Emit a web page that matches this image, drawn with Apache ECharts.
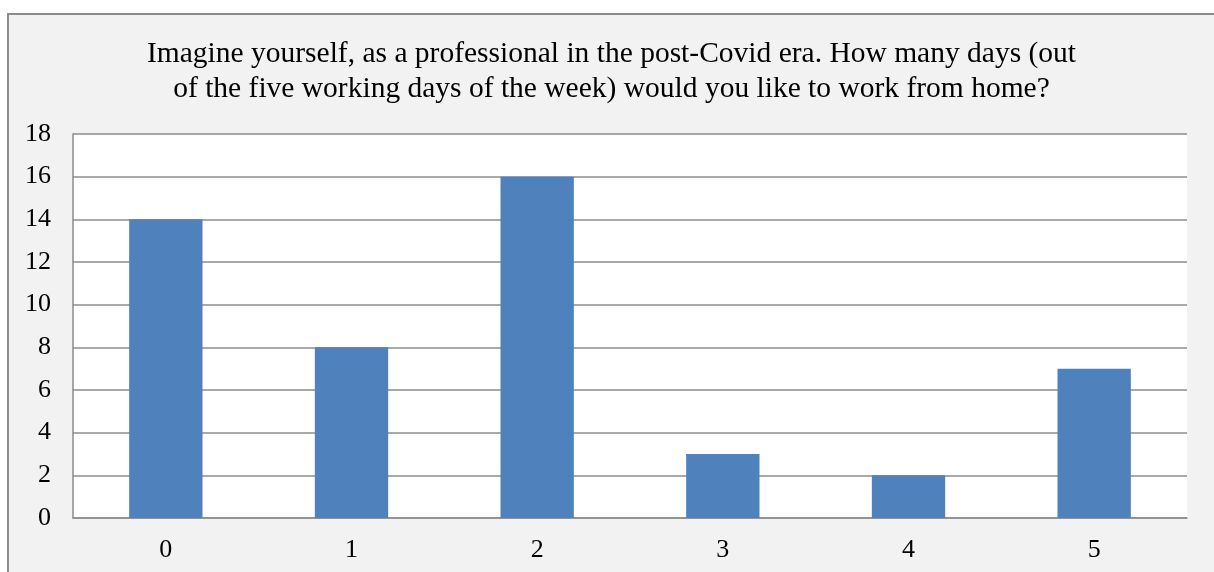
<!DOCTYPE html>
<html>
<head>
<meta charset="utf-8">
<script src="https://cdn.jsdelivr.net/npm/echarts@6/dist/echarts.min.js"></script>
<style>
  html, body { margin: 0; padding: 0; background: #fff; }
  #frame {
    position: absolute; left: 7px; top: 13px; width: 1205px; height: 557px;
    background: #f2f2f2; border-left: 2px solid #8c8c8c; border-top: 2px solid #8c8c8c;
  }
  #chart { width: 100%; height: 100%; }
</style>
</head>
<body>
<div id="frame"><div id="chart"></div></div>
<script>
var categories = ['0', '1', '2', '3', '4', '5'];
var counts = [14, 8, 16, 3, 2, 7];
var titleText = 'Imagine yourself, as a professional in the post-Covid era. How many days (out\nof the five working days of the week) would you like to work from home?';

var myChart = echarts.init(document.getElementById('chart'));
myChart.setOption({
  animation: false,
  title: {
    text: titleText,
    left: 'center',
    top: 17,
    textStyle: {
      fontFamily: 'Liberation Serif',
      fontSize: 29.5,
      fontWeight: 'normal',
      color: '#000',
      lineHeight: 35
    }
  },
  grid: {
    left: 64, right: 27, top: 119, bottom: 54,
    show: true, backgroundColor: '#fff', borderWidth: 0
  },
  xAxis: {
    type: 'category',
    data: categories,
    axisLine: { lineStyle: { color: '#8c8c8c', width: 1.5 } },
    axisTick: { show: false },
    axisLabel: { fontFamily: 'Liberation Serif', fontSize: 26, color: '#000', margin: 19 }
  },
  yAxis: {
    type: 'value',
    min: 0, max: 18, interval: 2,
    axisLine: { show: true, lineStyle: { color: '#8c8c8c', width: 1.5 } },
    axisTick: { show: false },
    splitLine: { lineStyle: { color: '#8c8c8c', width: 1.5 } },
    axisLabel: { fontFamily: 'Liberation Serif', fontSize: 26, color: '#000', margin: 22 }
  },
  series: [{
    type: 'bar',
    data: counts,
    barWidth: '39.5%',
    itemStyle: { color: '#4f81bd' }
  }]
});
</script>
</body>
</html>
